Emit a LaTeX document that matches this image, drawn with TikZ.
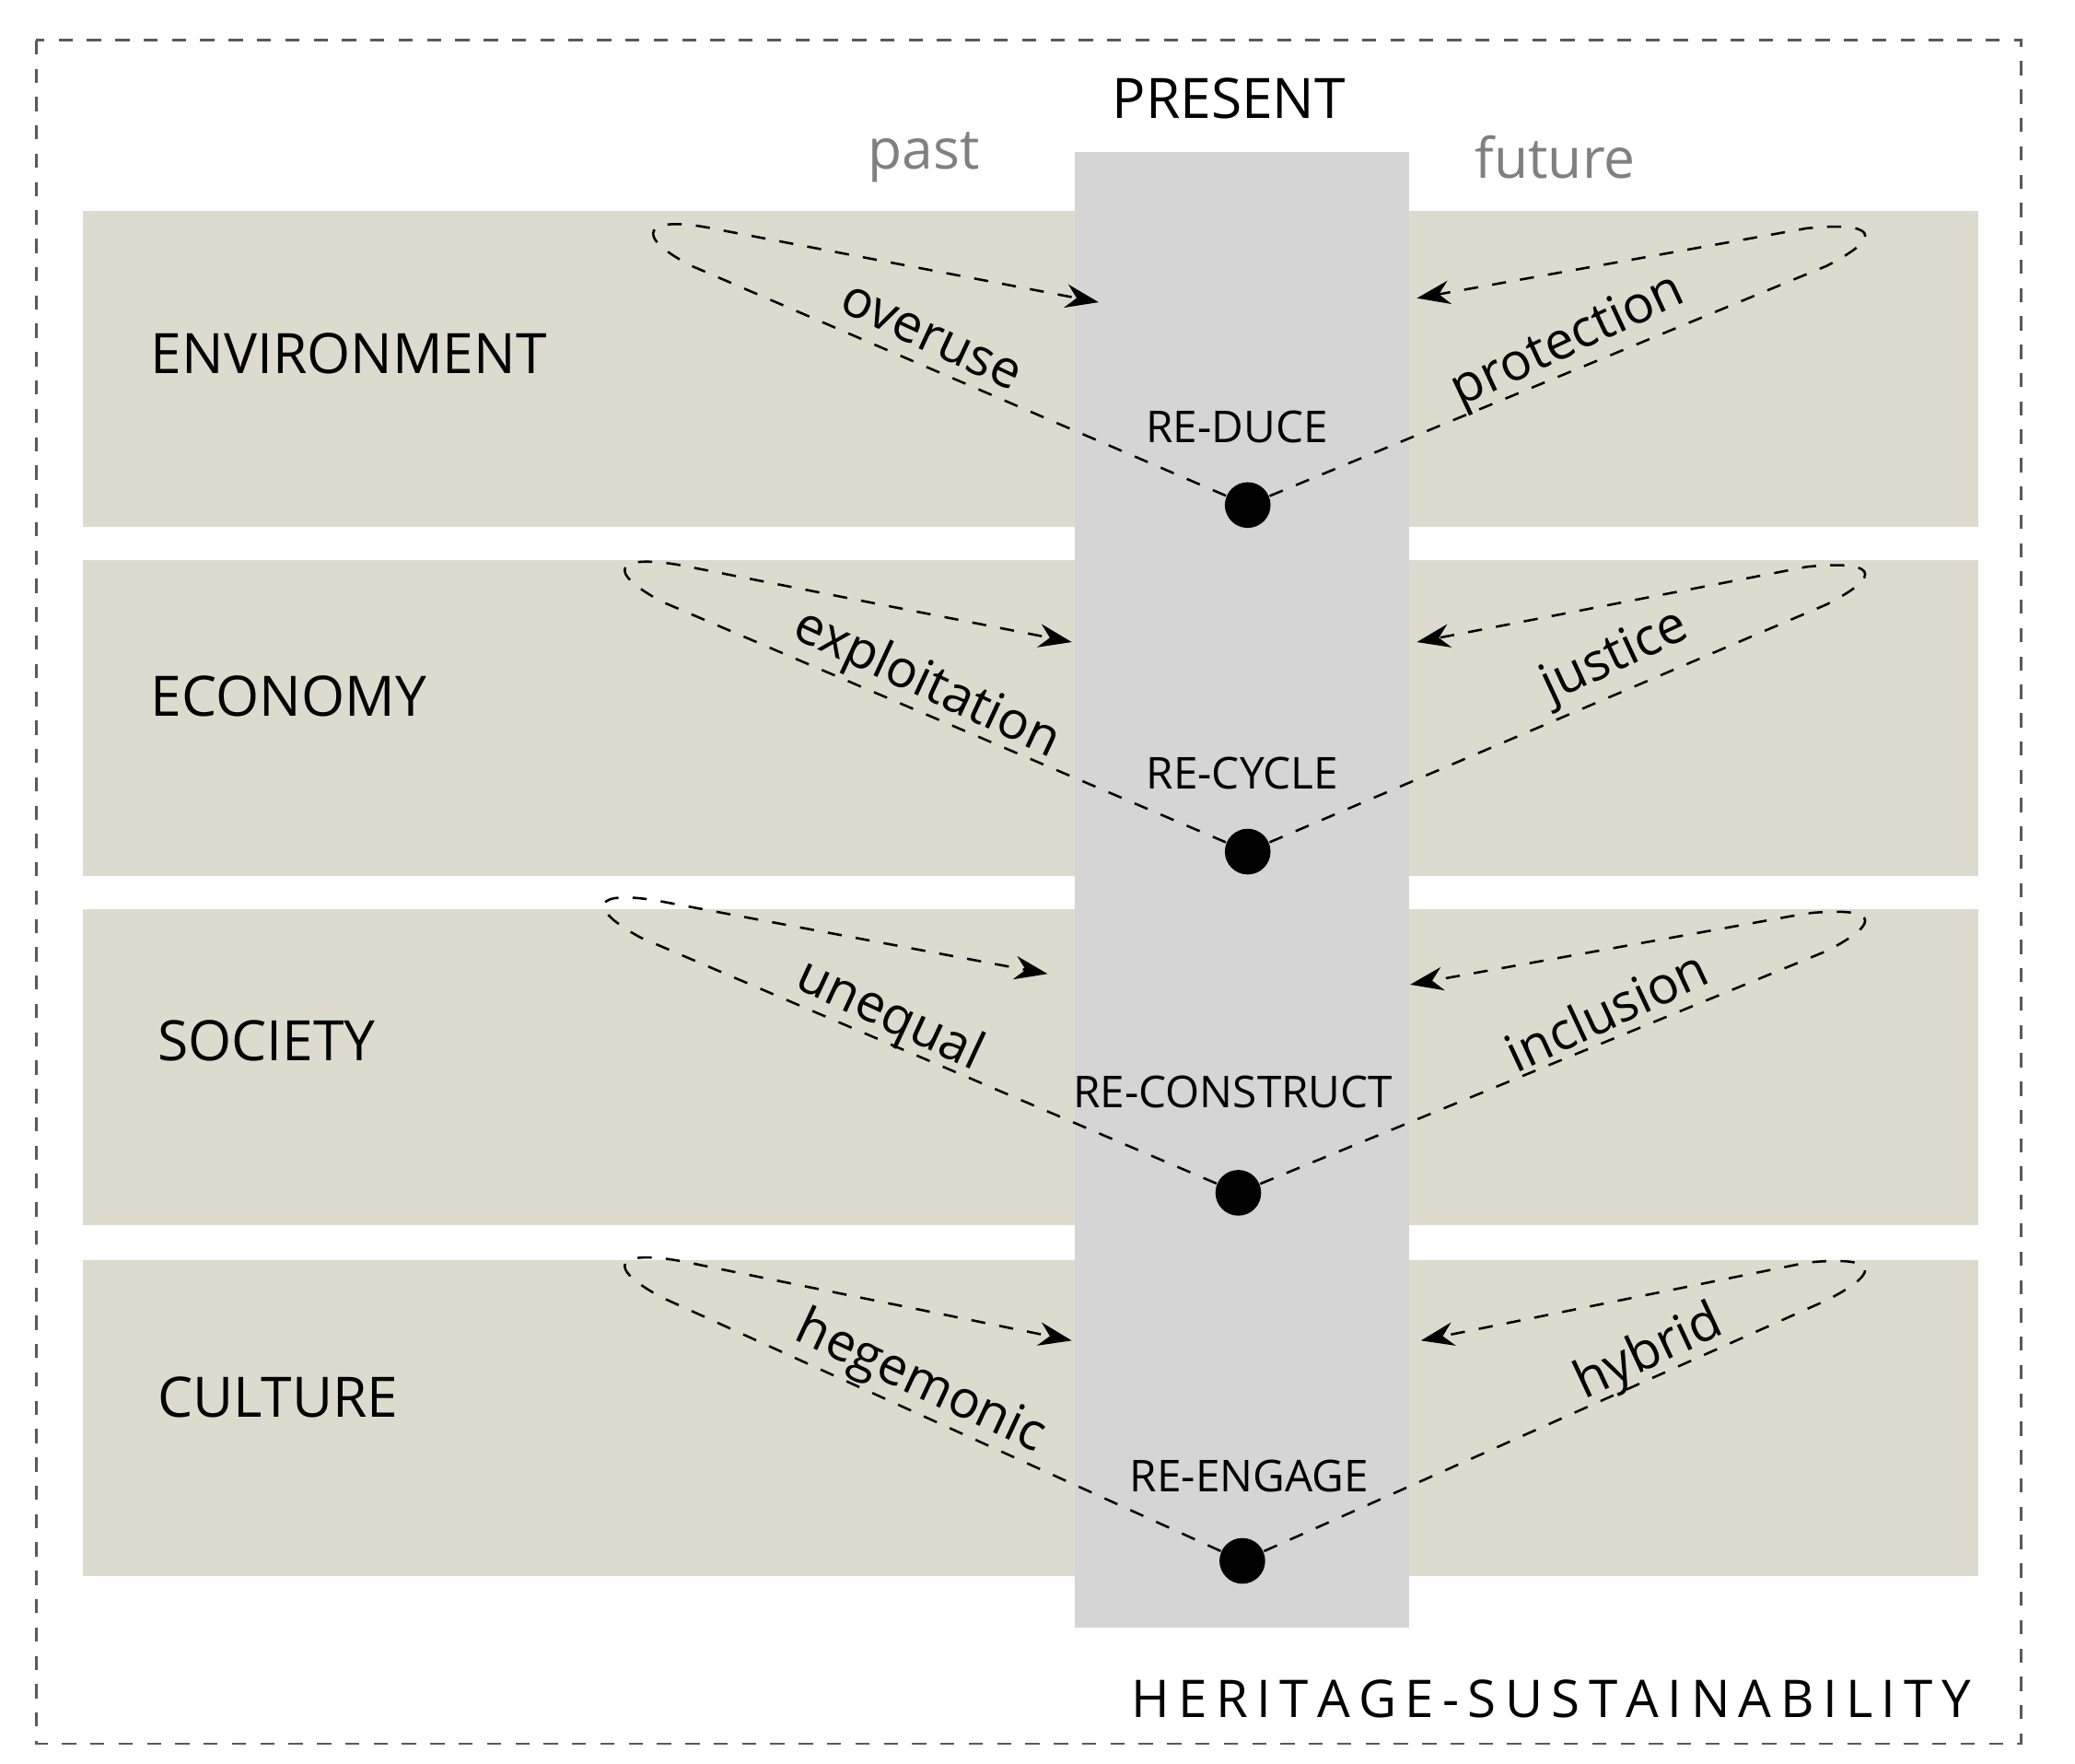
\documentclass[tikz,border=0pt]{standalone}
\usepackage{fontspec}
\setmainfont{Open Sans}
\usetikzlibrary{arrows.meta}
\definecolor{band}{RGB}{221,219,206}
\definecolor{col}{RGB}{213,213,213}
\definecolor{gtxt}{RGB}{128,128,128}
\begin{document}
\begin{tikzpicture}[x=0.01cm,y=-0.01cm,
  lbl/.style={font=\fontsize{11.8}{14}\selectfont},
  captxt/.style={font=\fontsize{9.3}{11}\selectfont},
  rel/.style={font=\fontsize{11}{13}\selectfont},
  dotn/.style={circle,fill=black,inner sep=0pt,minimum size=0.34cm},
  lp/.style={draw,dashed,line width=0.5pt,-{Stealth[length=7pt,width=5pt]}}]
\useasboundingbox (0,0) rectangle (1545,1313);
\draw[dashed,line width=0.5pt,gray!70!black] (27,30) rectangle (1505,1298);
\foreach \t in {157,417,677,938}{\fill[band] (62,\t) rectangle (1473,\t+235);}
\fill[col] (800,113) rectangle (1049,1212);
\node[lbl] (present) at (915,73) {PRESENT};
\node[lbl,gtxt] (past) at (688,117) {past};
\node[lbl,gtxt] (future) at (1158,117) {future};
\node[lbl,anchor=west] (env) at (100,263) {ENVIRONMENT};
\node[lbl,anchor=west] (eco) at (100,518) {ECONOMY};
\node[lbl,anchor=west] (soc) at (105,775) {SOCIETY};
\node[lbl,anchor=west] (cul) at (105,1040) {CULTURE};
\node[captxt] (r1) at (921,318) {RE-DUCE};
\node[captxt] (r2) at (925,576) {RE-CYCLE};
\node[captxt] (r3) at (918,813) {RE-CONSTRUCT};
\node[captxt] (r4) at (930,1099) {RE-ENGAGE};
\node[dotn] (d1) at (929,376) {};
\node[dotn] (d2) at (929,634) {};
\node[dotn] (d3) at (922,888) {};
\node[dotn] (d4) at (925,1162) {};
\coordinate (a1l) at (818,225); \coordinate (a1r) at (1055,222);
\coordinate (a2l) at (798,478); \coordinate (a2r) at (1055,478);
\coordinate (a3l) at (780,725); \coordinate (a3r) at (1050,733);
\coordinate (a4l) at (798,998); \coordinate (a4r) at (1058,998);
\draw[lp] (d1) -- (515,198) .. controls (470,175) and (480,160) .. (530,170) -- (a1l);
\draw[lp] (d2) -- (493,448) .. controls (450,425) and (458,412) .. (508,421) -- (a2l);
\draw[lp] (d3) -- (477,698) .. controls (435,675) and (442,662) .. (492,671) -- (a3l);
\draw[lp] (d4) -- (493,966) .. controls (450,943) and (458,930) .. (508,939) -- (a4l);
\draw[lp] (d1) -- (1360,198) .. controls (1405,175) and (1395,165) .. (1345,170) -- (a1r);
\draw[lp] (d2) -- (1360,450) .. controls (1405,427) and (1395,417) .. (1345,422) -- (a2r);
\draw[lp] (d3) -- (1360,708) .. controls (1405,685) and (1395,675) .. (1345,680) -- (a3r);
\draw[lp] (d4) -- (1360,968) .. controls (1405,945) and (1395,935) .. (1345,940) -- (a4r);
\node[rel,rotate=-25] (o1) at (693,252) {overuse};
\node[rel,rotate=25] (p1) at (1168,255) {protection};
\node[rel,rotate=-25] (o2) at (690,510) {exploitation};
\node[rel,rotate=25] (p2) at (1203,490) {justice};
\node[rel,rotate=-25] (o3) at (662,757) {unequal};
\node[rel,rotate=25] (p3) at (1196,752) {inclusion};
\node[rel,rotate=-25] (o4) at (685,1030) {hegemonic};
\node[rel,rotate=25] (p4) at (1228,1008) {hybrid};
\node[font=\fontsize{11}{13}\selectfont,anchor=east] (hs) at (1480,1265) {H\,E\,R\,I\,T\,A\,G\,E\,-\,S\,U\,S\,T\,A\,I\,N\,A\,B\,I\,L\,I\,T\,Y};
\end{tikzpicture}
\end{document}
